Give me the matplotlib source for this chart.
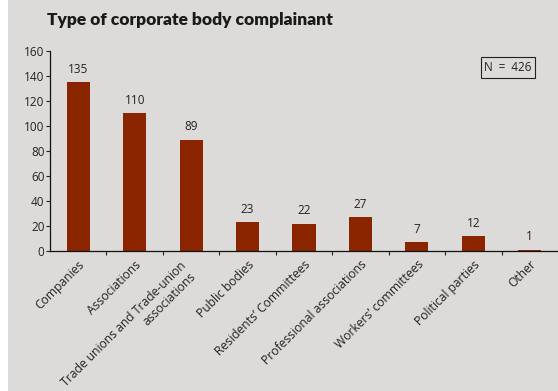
import matplotlib
matplotlib.use("Agg")
import matplotlib.pyplot as plt
import matplotlib.transforms as mtransforms
from matplotlib.patches import Rectangle

categories = [
    "Companies",
    "Associations",
    "Trade unions and Trade-union\nassociations",
    "Public bodies",
    "Residents’ Committees",
    "Professional associations",
    "Workers’ committees",
    "Political parties",
    "Other",
]
counts = [135, 110, 89, 23, 22, 27, 7, 12, 1]
y_ticks = [0, 20, 40, 60, 80, 100, 120, 140, 160]
title = "Type of corporate body complainant"
total_label = "N = 426"

bg = "#dcdbda"
bar_color = "#8b2500"

plt.rcParams["font.family"] = ["Open Sans", "DejaVu Sans"]

fig = plt.figure(figsize=(5.58, 3.91), dpi=100, facecolor=bg)
fig.patches.append(Rectangle((0, 0), 8 / 558, 1, transform=fig.transFigure,
                             facecolor="white", edgecolor="none", zorder=0))

ax = fig.add_axes([50 / 558, 140 / 391, 1 - 50 / 558, 200 / 391])
ax.set_facecolor(bg)

x = list(range(len(categories)))
ax.bar(x, counts, width=0.41, color=bar_color, zorder=2)
for xi, v in zip(x, counts):
    ax.text(xi, v + 5, str(v), ha="center", va="bottom", fontsize=8.5, color="#222222")

ax.set_xlim(-0.5, len(categories) - 0.5)
ax.set_ylim(0, 160)
ax.set_yticks(y_ticks)
ax.tick_params(axis="y", labelsize=8.5, length=3, width=0.8, pad=1, colors="#222222")

# tick marks sit on the category boundaries
ax.set_xticks([i + 0.5 for i in x[:-1]])
ax.set_xticklabels([])
ax.tick_params(axis="x", length=3, width=0.8, direction="out", colors="#222222")

# rotated category names under each bar
base = ax.get_xaxis_transform()
for xi, name in zip(x, categories):
    if "\n" in name:
        tr = mtransforms.offset_copy(base, fig=fig, x=-12, y=-1, units="dots")
    else:
        tr = base
    ax.text(xi, -0.035, name, transform=tr, rotation=45, ha="right", va="top",
            rotation_mode="anchor", fontsize=8.7, multialignment="right",
            color="#222222", clip_on=False)

for s in ("top", "right"):
    ax.spines[s].set_visible(False)
for s in ("left", "bottom"):
    ax.spines[s].set_linewidth(0.9)
    ax.spines[s].set_color("#111111")

fig.text(47 / 558, 1 - 20 / 391, title, fontsize=12.5, fontweight="heavy",
         family=["Lato", "DejaVu Sans"],
         ha="left", va="center", color="#1a1a1a")

ax.text(0.948, 0.9175, total_label.replace(" ", "\u2002"), transform=ax.transAxes,
        ha="right", va="center", fontsize=8.5, color="#222222",
        bbox=dict(boxstyle="square,pad=0.3", facecolor=bg, edgecolor="#222222", linewidth=0.8))

fig.savefig("out.png", dpi=100, facecolor=bg)
